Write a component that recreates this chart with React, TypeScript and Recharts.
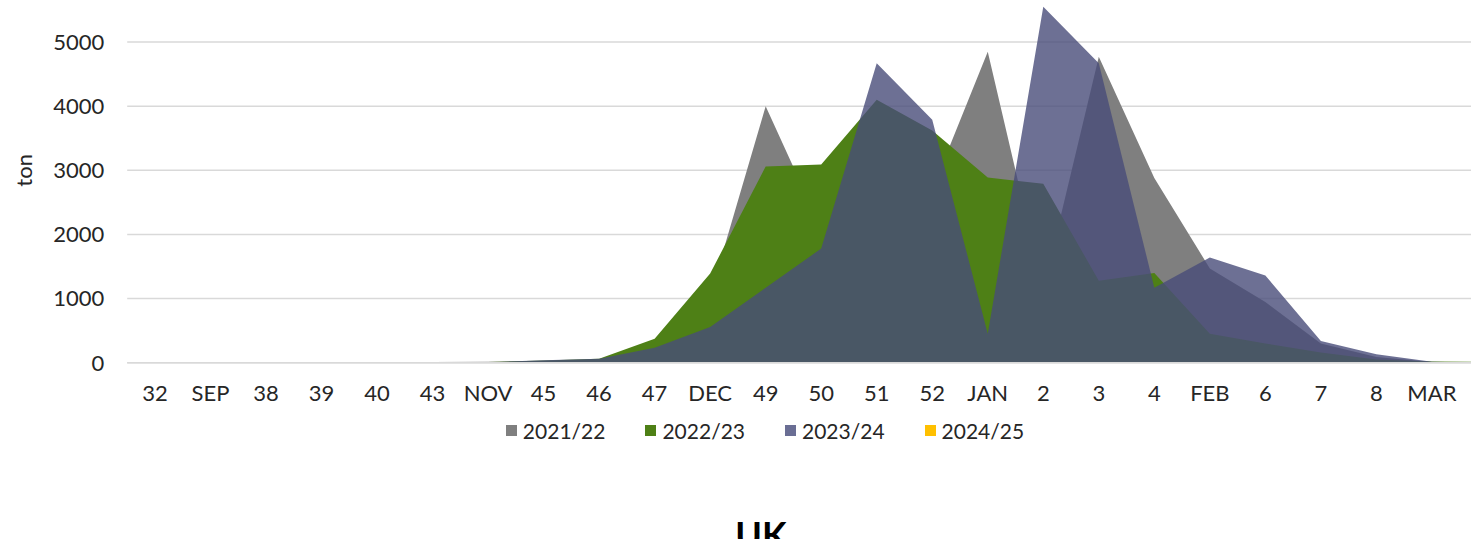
import { AreaChart, Area, XAxis, YAxis, CartesianGrid, Legend } from "recharts";

// week labels on the x axis (last one is the partly hidden band at the right edge)
const weeks = [
  "32", "SEP", "38", "39", "40", "43", "NOV", "45", "46", "47", "DEC", "49",
  "50", "51", "52", "JAN", "2", "3", "4", "FEB", "6", "7", "8", "MAR", " ",
];

const s2122 = [0, 0, 0, 0, 0, 10, 15, 25, 45, 300, 1050, 4000, 2100, 2400, 2700, 4850, 1150, 4770, 2880, 1470, 945, 300, 87, 10, 0];
const s2223 = [0, 0, 0, 0, 0, 0, 10, 35, 60, 374, 1390, 3060, 3090, 4100, 3620, 2890, 2790, 1280, 1400, 450, 300, 160, 50, 20, 15];
const s2324 = [0, 0, 0, 0, 0, 0, 5, 40, 60, 234, 555, 1170, 1780, 4670, 3790, 450, 5550, 4670, 1170, 1640, 1360, 337, 130, 15, 0];

const yTicks = [0, 1000, 2000, 3000, 4000, 5000];

const seriesNames = ["2021/22", "2022/23", "2023/24", "2024/25"];
const swatchColors = ["#7f7f7f", "#4e8016", "#6a6e94", "#ffc000"];

const data = weeks.map((week, i) => ({
  week,
  s2122: s2122[i],
  s2223: s2223[i],
  s2324: s2324[i],
}));

const FONT = "Lato, 'Open Sans', sans-serif";
const TEXT = "#262626";

function LegendBox() {
  return (
    <div
      style={{
        display: "flex",
        justifyContent: "center",
        gap: 40,
        fontFamily: FONT,
        fontSize: 21,
        color: TEXT,
        lineHeight: "26px",
      }}
    >
      {seriesNames.map((name, i) => (
        <span key={name} style={{ display: "flex", alignItems: "center" }}>
          <span
            style={{
              width: 11,
              height: 11,
              background: swatchColors[i],
              marginRight: 6,
              display: "inline-block",
            }}
          />
          {name}
        </span>
      ))}
    </div>
  );
}

export default function App() {
  return (
    <div
      style={{
        position: "fixed",
        left: 0,
        top: 0,
        width: 1471,
        height: 539,
        overflow: "hidden",
        background: "#fff",
        fontFamily: FONT,
      }}
    >
      {/* axis top (6000) sits just above the visible area, like the cropped original */}
      <div style={{ position: "absolute", left: 0, top: -22.4 }}>
        <AreaChart
          width={1530}
          height={600}
          data={data}
          margin={{ top: 0, right: 14.8, left: 0, bottom: 155.3 }}
        >
          <CartesianGrid vertical={false} stroke="#d9d9d9" strokeWidth={1.5} />
          <XAxis
            dataKey="week"
            interval={0}
            tickLine={false}
            tickSize={0}
            tickMargin={23}
            height={60}
            axisLine={{ stroke: "#d9d9d9", strokeWidth: 1.5 }}
            padding={{ left: 27.76, right: 27.76 }}
            tick={{ fontSize: 22, fill: TEXT, fontFamily: FONT }}
          />
          <YAxis
            width={127.2}
            domain={[0, 6000]}
            ticks={yTicks}
            axisLine={false}
            tickLine={false}
            tickSize={0}
            tickMargin={23}
            tick={{ fontSize: 22, fill: TEXT, fontFamily: FONT }}
            label={{
              value: "ton",
              angle: -90,
              position: "insideLeft",
              offset: 24,
              style: { textAnchor: "middle", fontSize: 22, fill: TEXT, fontFamily: FONT },
            }}
          />
          <Area type="linear" dataKey="s2122" name="2021/22" stroke="none" fill="#7f7f7f" fillOpacity={1} isAnimationActive={false} />
          <Area type="linear" dataKey="s2223" name="2022/23" stroke="none" fill="#4e8016" fillOpacity={1} isAnimationActive={false} />
          <Area type="linear" dataKey="s2324" name="2023/24" stroke="none" fill="#484c79" fillOpacity={0.8} isAnimationActive={false} />
          <Legend
            layout="horizontal"
            verticalAlign="middle"
            align="center"
            content={() => <LegendBox />}
            wrapperStyle={{ top: 440, left: 0, width: 1530 }}
          />
        </AreaChart>
      </div>
      <div
        style={{
          position: "absolute",
          left: 0,
          top: 516,
          width: 1522,
          textAlign: "center",
          fontFamily: FONT,
          fontWeight: 700,
          fontSize: 36,
          lineHeight: 1,
          color: "#000",
        }}
      >
        UK
      </div>
    </div>
  );
}
